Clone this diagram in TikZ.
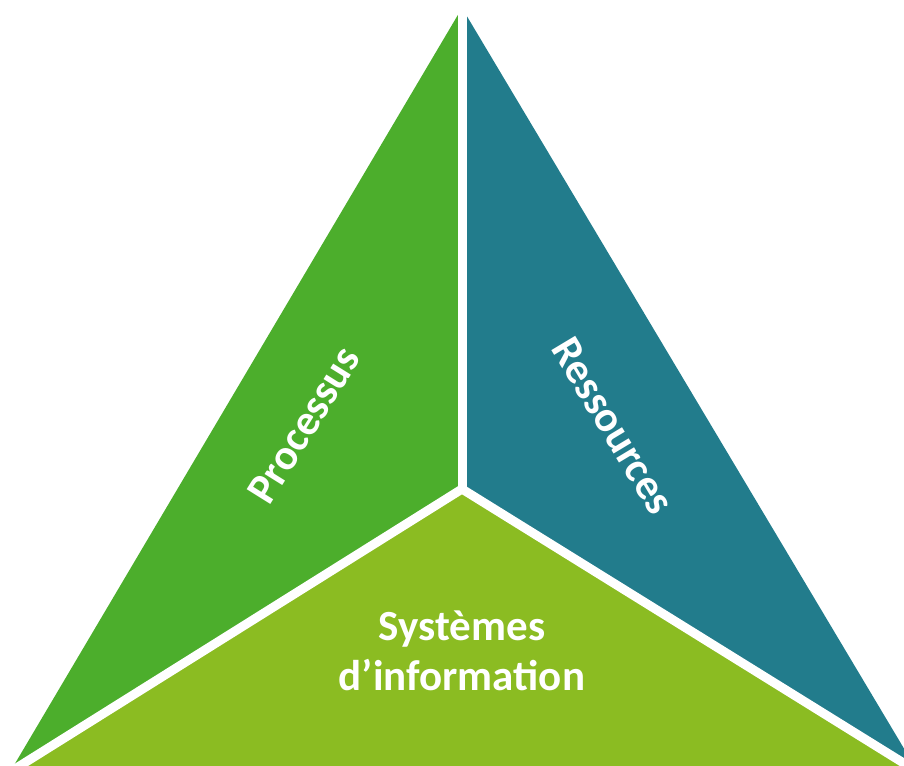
\documentclass[tikz,border=0pt]{standalone}
\usepackage{fontspec}
\setmainfont{Carlito}
\usetikzlibrary{calc}
\definecolor{procgreen}{RGB}{76,174,44}
\definecolor{resteal}{RGB}{34,124,140}
\definecolor{sysgreen}{RGB}{139,188,34}
\tikzset{
  gapline/.style={white, line width=9pt, line cap=butt},
  lbl/.style={text=white, font=\bfseries\fontsize{43}{50}\selectfont, inner sep=0pt, align=center}
}
\begin{document}
\begin{tikzpicture}[x=1pt,y=-1pt]
\useasboundingbox (0,0) rectangle (904,765);
\clip (0,0) rectangle (904,765);
\coordinate (A) at (462,8);
\coordinate (B) at (10,772);
\coordinate (C) at (918,772);
\coordinate (O) at (462,489);
\fill[procgreen] (A) -- (O) -- (B) -- cycle;
\fill[resteal] (A) -- (C) -- (O) -- cycle;
\fill[sysgreen] (O) -- (C) -- (B) -- cycle;
\draw[gapline] (O) -- ($(A)+(0,-10)$);
\draw[gapline] (O) -- ($(O)!1.05!(B)$);
\draw[gapline] (O) -- ($(O)!1.05!(C)$);
\node[lbl, rotate=58] (proc) at (304,425) {Processus};
\node[lbl, rotate=-59] (res) at (613,426) {Ressources};
\node[lbl] (sys) at (462,651) {Systèmes\\d’information};
\end{tikzpicture}
\end{document}
